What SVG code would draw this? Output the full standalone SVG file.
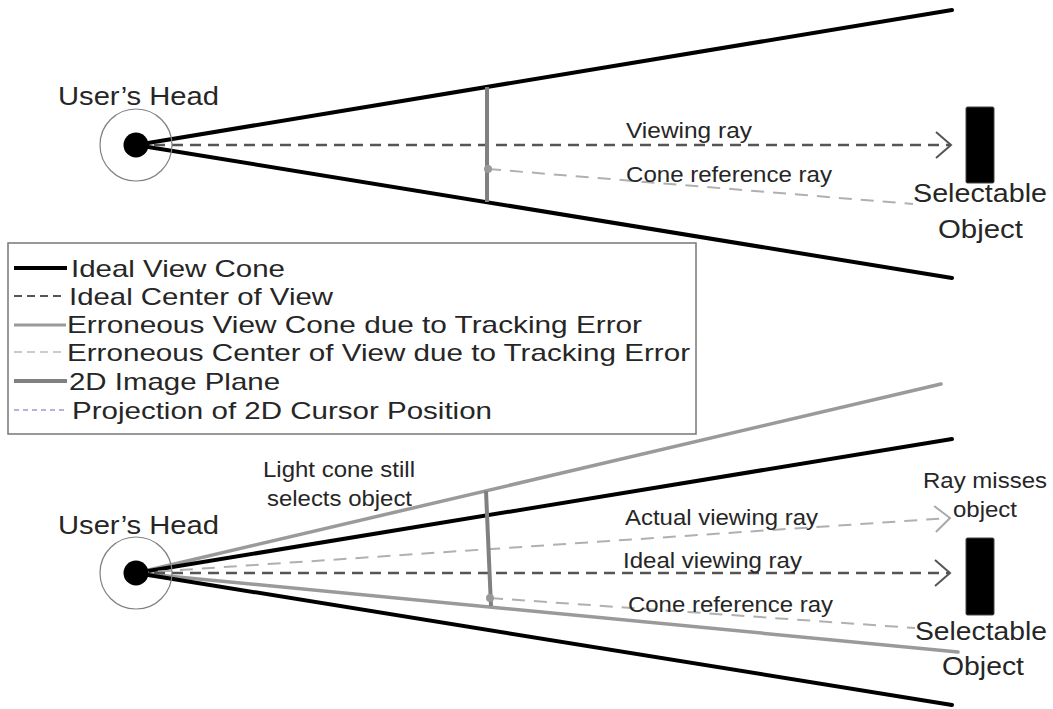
<svg xmlns="http://www.w3.org/2000/svg" width="1053" height="709" viewBox="0 0 1053 709">
  <style>
    text { font-family: "Liberation Sans", Arial, sans-serif; fill: #262626; }
    .cone { stroke: #000; stroke-width: 4; fill: none; stroke-linecap: round; }
    .errcone { stroke: #9a9a9a; stroke-width: 3.5; fill: none; stroke-linecap: round; }
    .ray { stroke: #555; stroke-width: 2.5; fill: none; stroke-dasharray: 11 7; }
    .lray { stroke: #b0b0b0; stroke-width: 2; fill: none; stroke-dasharray: 13 9; }
    .plane { stroke: #808080; stroke-width: 4; fill: none; }
    .headring { stroke: #808080; stroke-width: 1.2; fill: none; }
    .lbl { font-size: 22px; }
    .big { font-size: 26px; }
    .leg { font-size: 24px; }
  </style>
  <defs>
    <marker id="arrDark" markerUnits="userSpaceOnUse" viewBox="-17 -15 20 30" markerWidth="20" markerHeight="30" refX="0" refY="0" orient="auto">
      <path d="M-15,-13 L0,0 L-15,13" fill="none" stroke="#555" stroke-width="2"/>
    </marker>
    <marker id="arrLight" markerUnits="userSpaceOnUse" viewBox="-17 -15 20 30" markerWidth="20" markerHeight="30" refX="0" refY="0" orient="auto">
      <path d="M-15,-13 L0,0 L-15,13" fill="none" stroke="#aaa" stroke-width="2"/>
    </marker>
  </defs>
  <rect width="1053" height="709" fill="#fff"/>

  <g id="connectors">
    <line class="cone" x1="136" y1="145" x2="952" y2="10"/>
    <line class="cone" x1="136" y1="145" x2="952" y2="278"/>
    <line class="ray" x1="136" y1="145" x2="951" y2="145" marker-end="url(#arrDark)"/>
    <line class="lray" x1="488" y1="169" x2="913" y2="204"/>
    <line class="plane" x1="487" y1="87" x2="487" y2="202"/>
    <circle cx="488" cy="169" r="4" fill="#999"/>

    <line class="errcone" x1="136" y1="573" x2="941" y2="384"/>
    <line class="errcone" x1="136" y1="573" x2="958" y2="652"/>
    <line class="cone" x1="136" y1="573" x2="952" y2="439"/>
    <line class="cone" x1="136" y1="573" x2="952" y2="705"/>
    <line class="lray" x1="136" y1="573" x2="950" y2="518" marker-end="url(#arrLight)"/>
    <line class="ray" x1="136" y1="573" x2="950" y2="573" marker-end="url(#arrDark)"/>
    <line class="lray" x1="490" y1="598" x2="915" y2="628"/>
    <line class="plane" x1="486" y1="491" x2="491" y2="606"/>
    <circle cx="490" cy="598" r="4" fill="#999"/>
  </g>

  <g id="head-top">
    <circle class="headring" cx="136" cy="145" r="36"/>
    <circle cx="136" cy="145" r="12.5" fill="#000"/>
    <text class="big" x="58" y="105" textLength="161" lengthAdjust="spacingAndGlyphs">User’s Head</text>
  </g>

  <g id="object-top">
    <rect x="966" y="107" width="28" height="76" rx="1.5" fill="#000" stroke="#444" stroke-width="1"/>
    <text class="big" x="913" y="202" textLength="134" lengthAdjust="spacingAndGlyphs">Selectable</text>
    <text class="big" x="938" y="238" textLength="85" lengthAdjust="spacingAndGlyphs">Object</text>
  </g>

  <g id="labels-top">
    <text class="lbl" x="626" y="138" textLength="126" lengthAdjust="spacingAndGlyphs">Viewing ray</text>
    <text class="lbl" x="626" y="182" textLength="206" lengthAdjust="spacingAndGlyphs">Cone reference ray</text>
  </g>

  <g id="legend">
    <rect x="8" y="243" width="688" height="191" fill="#fff" stroke="#777" stroke-width="1.5"/>
    <line x1="14" y1="268" x2="67" y2="268" stroke="#000" stroke-width="4"/>
    <text class="leg" x="71" y="277" textLength="214" lengthAdjust="spacingAndGlyphs">Ideal View Cone</text>
    <line x1="14" y1="296" x2="66" y2="296" stroke="#555" stroke-width="2" stroke-dasharray="8 5"/>
    <text class="leg" x="69" y="305" textLength="264" lengthAdjust="spacingAndGlyphs">Ideal Center of View</text>
    <line x1="14" y1="325" x2="66" y2="325" stroke="#9a9a9a" stroke-width="3"/>
    <text class="leg" x="67" y="333" textLength="575" lengthAdjust="spacingAndGlyphs">Erroneous View Cone due to Tracking Error</text>
    <line x1="14" y1="352" x2="66" y2="352" stroke="#bbb" stroke-width="1.5" stroke-dasharray="8 5"/>
    <text class="leg" x="67" y="361" textLength="623" lengthAdjust="spacingAndGlyphs">Erroneous Center of View due to Tracking Error</text>
    <line x1="14" y1="381" x2="67" y2="381" stroke="#808080" stroke-width="4"/>
    <text class="leg" x="69" y="390" textLength="211" lengthAdjust="spacingAndGlyphs">2D Image Plane</text>
    <line x1="14" y1="410" x2="66" y2="410" stroke="#9a9ad8" stroke-width="1.5" stroke-dasharray="5 4"/>
    <text class="leg" x="72" y="419" textLength="420" lengthAdjust="spacingAndGlyphs">Projection of 2D Cursor Position</text>
  </g>

  <g id="head-bottom">
    <circle class="headring" cx="136" cy="573" r="36"/>
    <circle cx="136" cy="573" r="12.5" fill="#000"/>
    <text class="big" x="58" y="534" textLength="161" lengthAdjust="spacingAndGlyphs">User’s Head</text>
  </g>

  <g id="object-bottom">
    <rect x="966" y="538" width="28" height="77" rx="1.5" fill="#000" stroke="#444" stroke-width="1"/>
    <text class="big" x="915" y="640" textLength="132" lengthAdjust="spacingAndGlyphs">Selectable</text>
    <text class="big" x="942" y="675" textLength="82" lengthAdjust="spacingAndGlyphs">Object</text>
  </g>

  <g id="labels-bottom">
    <text class="lbl" x="263" y="477" textLength="152" lengthAdjust="spacingAndGlyphs">Light cone still</text>
    <text class="lbl" x="267" y="506" textLength="145" lengthAdjust="spacingAndGlyphs">selects object</text>
    <text class="lbl" x="625" y="525" textLength="193" lengthAdjust="spacingAndGlyphs">Actual viewing ray</text>
    <text class="lbl" x="623" y="568" textLength="179" lengthAdjust="spacingAndGlyphs">Ideal viewing ray</text>
    <text class="lbl" x="628" y="612" textLength="205" lengthAdjust="spacingAndGlyphs">Cone reference ray</text>
    <text class="lbl" x="923" y="488" textLength="124" lengthAdjust="spacingAndGlyphs">Ray misses</text>
    <text class="lbl" x="953" y="517" textLength="64" lengthAdjust="spacingAndGlyphs">object</text>
  </g>
</svg>
